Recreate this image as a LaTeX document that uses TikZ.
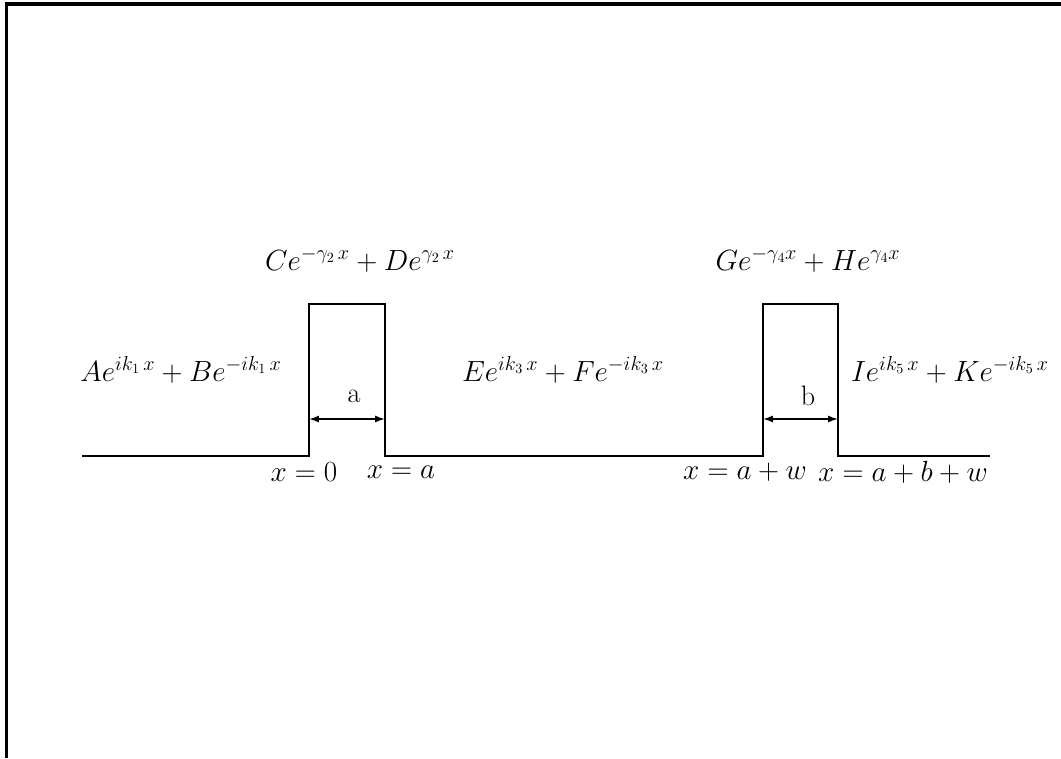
\documentclass[tikz,border=0pt]{standalone}
\usetikzlibrary{arrows.meta}
\begin{document}
\begin{tikzpicture}[x=0.025cm,y=-0.025cm,
  wall/.style={line width=1.5pt},
  frame/.style={line width=2.2pt},
  dim/.style={line width=1.2pt,{Latex[length=7pt,width=5pt]}-{Latex[length=7pt,width=5pt]}},
  lbl/.style={inner sep=0pt,font=\fontsize{20}{24}\selectfont}]
\useasboundingbox (0,0) rectangle (1061,758);
\draw[frame] (6.5,758) -- (6.5,4) -- (1061,4);
% potential profile
\coordinate (s) at (82,456);
\coordinate (p1) at (309,456);
\coordinate (p2) at (309,304);
\coordinate (p3) at (385,304);
\coordinate (p4) at (385,456);
\coordinate (p5) at (763,456);
\coordinate (p6) at (763,304);
\coordinate (p7) at (838,304);
\coordinate (p8) at (838,456);
\coordinate (e) at (990,456);
\draw[wall] (s) -- (p1) -- (p2) -- (p3) -- (p4) -- (p5) -- (p6) -- (p7) -- (p8) -- (e);
% dimension arrows
\coordinate (a1) at (309,419);
\coordinate (a2) at (385,419);
\coordinate (b1) at (763,419);
\coordinate (b2) at (838,419);
\draw[dim] (a1) -- (a2);
\draw[dim] (b1) -- (b2);
\node[lbl] (la) at (354,396) {a};
\node[lbl] (lb) at (808,396) {b};
% position labels
\node[lbl] (x0) at (304,472) {$x=0$};
\node[lbl] (xa) at (401,472) {$x=a$};
\node[lbl] (xaw) at (745,472) {$x=a+w$};
\node[lbl] (xabw) at (903,472) {$x=a+b+w$};
% wavefunctions
\node[lbl] (w1) at (181,370) {$Ae^{ik_1\,x}+Be^{-ik_1\,x}$};
\node[lbl] (w2) at (360,260) {$Ce^{-\gamma_2\,x}+De^{\gamma_2\,x}$};
\node[lbl] (w3) at (563,370) {$Ee^{ik_3\,x}+Fe^{-ik_3\,x}$};
\node[lbl] (w4) at (808,260) {$Ge^{-\gamma_4x}+He^{\gamma_4x}$};
\node[lbl] (w5) at (950,370) {$Ie^{ik_5\,x}+Ke^{-ik_5\,x}$};
\end{tikzpicture}
\end{document}
